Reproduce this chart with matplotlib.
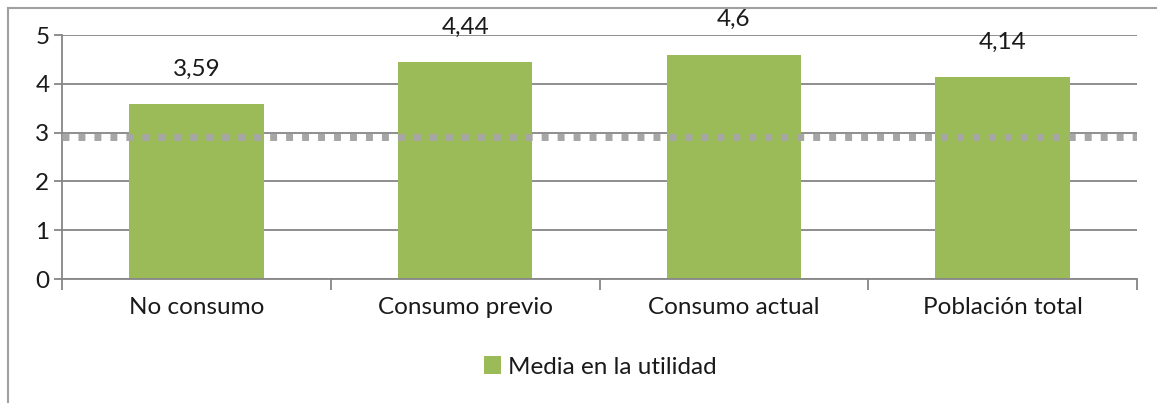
import matplotlib
matplotlib.use("Agg")
import matplotlib.pyplot as plt
from matplotlib.lines import Line2D

categorias = ["No consumo", "Consumo previo", "Consumo actual", "Población total"]
medias = [3.59, 4.44, 4.6, 4.14]
etiquetas = ["3,59", "4,44", "4,6", "4,14"]
referencia = 2.92
serie = "Media en la utilidad"

plt.rcParams['font.family'] = ['Lato', 'DejaVu Sans']

verde = "#9BBB59"
gris = "#868686"
texto = "#1a1a1a"
fs = 17.5

fig = plt.figure(figsize=(11.57, 4.03), dpi=100)
ax = fig.add_axes([62/1157, 124/403, 1075/1157, 244/403])

x = list(range(len(categorias)))
ax.bar(x, medias, width=0.5, color=verde, label=serie, zorder=2)

for xi, v, t in zip(x, medias, etiquetas):
    ax.text(xi, v + 0.58, t, ha="center", va="baseline", fontsize=fs,
            color=texto, clip_on=False)

# linea de referencia punteada, por encima de las barras
ax.axhline(referencia, color="#A6A6A6", lw=5, ls=(0, (1, 1.3)),
           dash_capstyle="butt", zorder=3)

ax.set_xlim(-0.5, len(categorias) - 0.5)
ax.set_ylim(0, 5)
ax.set_yticks(range(0, 6))
ax.yaxis.grid(True, color=gris, lw=1.3, zorder=1)
ax.set_axisbelow(True)

ax.set_xticks([i - 0.5 for i in range(len(categorias) + 1)])
ax.set_xticklabels([])
ax.set_xticks(x, minor=True)
ax.set_xticklabels(categorias, minor=True)
ax.tick_params(axis="x", which="major", length=8, width=1.3, color=gris)
ax.tick_params(axis="x", which="minor", length=0, pad=13, labelsize=fs,
               labelcolor=texto)
ax.tick_params(axis="y", length=6, width=1.3, color=gris, labelsize=fs,
               labelcolor=texto, pad=3)

for s in ["top", "right"]:
    ax.spines[s].set_visible(False)
for s in ["left", "bottom"]:
    ax.spines[s].set_color(gris)
    ax.spines[s].set_linewidth(1.3)

fig.legend(loc="center", bbox_to_anchor=(600/1157, 36/403), frameon=False,
           fontsize=fs, handlelength=0.7, handleheight=0.7,
           handletextpad=0.3, labelcolor=texto)

# marco exterior (solo arriba e izquierda)
fig.add_artist(Line2D([8/1157, 1], [1 - 8/403, 1 - 8/403], color="#A0A0A0",
                      lw=1.5, transform=fig.transFigure))
fig.add_artist(Line2D([8/1157, 8/1157], [0, 1 - 8/403], color="#A0A0A0",
                      lw=1.5, transform=fig.transFigure))

fig.savefig("out.png", dpi=100)
